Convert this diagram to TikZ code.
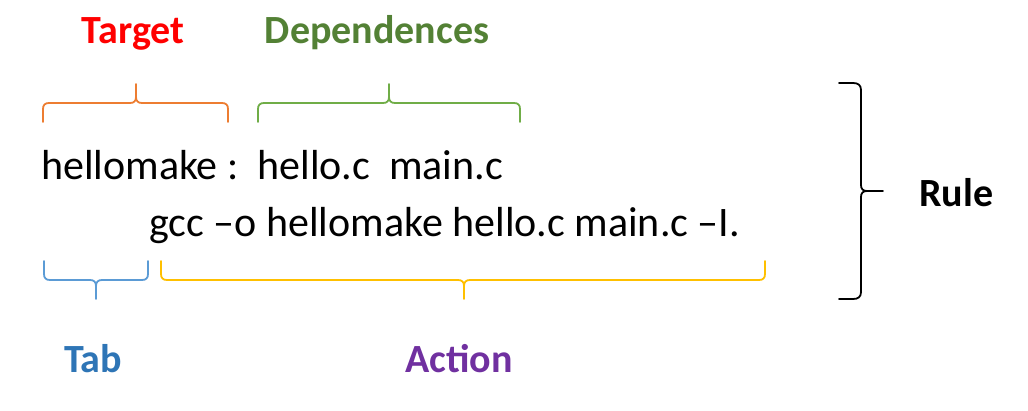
\documentclass[tikz,border=0pt]{standalone}
\usepackage{fontspec}
\setmainfont{Carlito}
\definecolor{cTarget}{HTML}{FF0000}
\definecolor{cDep}{HTML}{538135}
\definecolor{cOrange}{HTML}{ED7D31}
\definecolor{cGreen}{HTML}{70AD47}
\definecolor{cBlueB}{HTML}{5B9BD5}
\definecolor{cYellow}{HTML}{FFC000}
\definecolor{cTab}{HTML}{2E75B6}
\definecolor{cAction}{HTML}{7030A0}
\tikzset{
  bracestyle/.style={line width=1.8pt, line join=round, line cap=round},
  codetext/.style={inner sep=0pt, anchor=base west, font=\fontsize{42}{50}\selectfont},
  labeltext/.style={inner sep=0pt, anchor=base, font=\fontsize{40}{48}\selectfont\bfseries},
}
% #1 L, #2 M, #3 R, #4 y end, #5 y bar, #6 sign, #7 y tip, #8 colour
\newcommand\mkbrace[8]{%
  \draw[bracestyle,#8] (#1,#4) -- (#1,{#5+#6*6}) .. controls (#1,{#5+#6*2}) and ({#1+2},#5) .. ({#1+6},#5)
    -- ({#2-6},#5) .. controls ({#2-2},#5) and (#2,{#5-#6*2}) .. (#2,{#5-#6*6}) -- (#2,#7)
    (#2,{#5-#6*6}) .. controls (#2,{#5-#6*2}) and ({#2+2},#5) .. ({#2+6},#5)
    -- ({#3-6},#5) .. controls ({#3-2},#5) and (#3,{#5+#6*2}) .. (#3,{#5+#6*6}) -- (#3,#4);}
\begin{document}
\frenchspacing
\begin{tikzpicture}[x=1pt,y=-1pt]
\useasboundingbox[fill=white] (0,0) rectangle (1028,410);

% labels
\node[labeltext, text=cTarget] (target) at (133,43) {Target};
\node[labeltext, text=cDep] (dep) at (377,43) {Dependences};
\node[labeltext, text=cTab] (tab) at (93,372) {Tab};
\node[labeltext, text=cAction] (action) at (459,372) {Action};
\node[labeltext, anchor=base west] (rule) at (919,206) {Rule};

% code lines
\node[codetext] (line1) at (41,179) {hellomake :\ \ hello.c\ \ main.c};
\node[codetext] (line2) at (149,236) {gcc –o hellomake hello.c main.c –I.};

% braces
\mkbrace{43}{136}{228}{122}{103}{1}{84}{cOrange}
\mkbrace{258}{389}{520}{122}{103}{1}{84}{cGreen}
\mkbrace{44}{96}{148}{261}{280}{-1}{299}{cBlueB}
\mkbrace{161}{464}{765}{261}{280}{-1}{299}{cYellow}

% rule brace
\draw[bracestyle, black] (839,83) -- (853,83) .. controls (858,83) and (861,85) .. (861,90)
  -- (861,185) .. controls (861,189) and (863,191) .. (867,191) -- (883,191)
  (867,191) .. controls (863,191) and (861,193) .. (861,197)
  -- (861,292) .. controls (861,297) and (858,299) .. (853,299) -- (839,299);
\end{tikzpicture}
\end{document}
